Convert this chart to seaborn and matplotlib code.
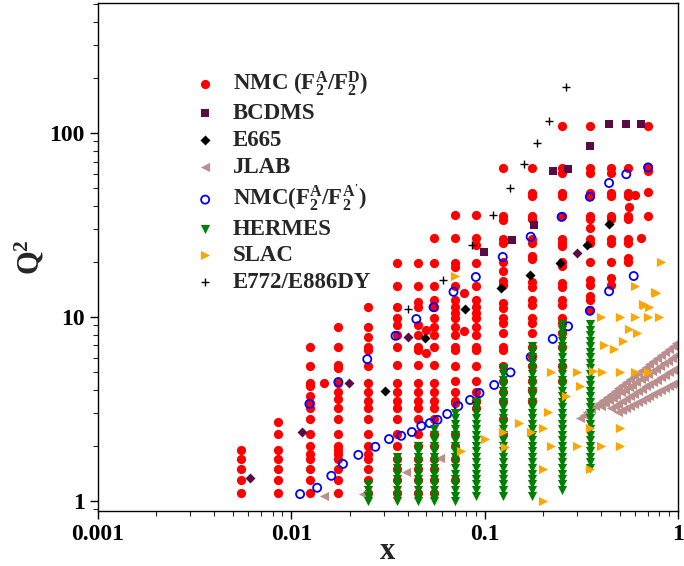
import pandas as pd
import seaborn as sns
import matplotlib.pyplot as plt
from matplotlib.ticker import LogLocator, NullFormatter

sns.set_style('ticks')
plt.rcParams['font.family'] = ['Liberation Serif', 'DejaVu Serif']
plt.rcParams['font.weight'] = 'bold'
plt.rcParams['axes.labelweight'] = 'bold'
plt.rcParams['mathtext.fontset'] = 'custom'
plt.rcParams['mathtext.rm'] = 'Liberation Serif:bold'
plt.rcParams['mathtext.it'] = 'Liberation Serif:bold'
plt.rcParams['mathtext.bf'] = 'Liberation Serif:bold'

# NMC (F2A/F2D): x bins and the Q^2 values seen in each bin
nmc_x = [0.0055, 0.0085, 0.0125, 0.0147, 0.0175, 0.025, 0.035, 0.045, 0.05,
         0.055, 0.07, 0.078, 0.09, 0.125, 0.175, 0.25, 0.35, 0.45, 0.55,
         0.56, 0.6, 0.64, 0.7]
nmc_q2 = [
    [1.1, 1.3, 1.5, 1.7, 1.9],
    [1.1, 1.3, 1.5, 1.7, 1.9, 2.3, 2.7],
    [1.1, 1.3, 1.5, 1.7, 1.8, 2.0, 2.3, 2.8, 3.2, 3.4, 3.7, 4.2, 4.4, 5.4, 6.9],
    [4.4],
    [1.1, 1.3, 1.5, 1.7, 1.8, 1.9, 2.0, 2.3, 2.8, 3.2, 3.6, 3.9, 4.4, 5.3, 5.5, 6.9, 8.8],
    [1.1, 1.3, 1.5, 1.7, 1.8, 2.0, 2.3, 2.8, 3.2, 3.5, 3.9, 4.4, 5.4, 6.6, 6.9, 7.8, 8.8, 11.3],
    [1.1, 1.3, 1.5, 1.7, 2.0, 2.3, 2.8, 3.2, 3.5, 3.9, 4.4, 5.5, 6.9, 8.0, 9.1, 9.9, 11.3, 14.7, 19.7],
    [1.1, 1.3, 1.5, 1.7, 2.0, 2.3, 2.8, 3.2, 3.5, 3.9, 4.4, 5.5, 6.6, 6.9, 8.0, 9.1, 11.3, 12.1, 14.7, 19.7],
    [6.4, 8.5],
    [1.1, 1.3, 1.5, 1.7, 2.0, 2.3, 2.8, 3.2, 3.5, 3.9, 4.4, 5.5, 6.9, 8.0, 8.8, 9.9, 11.3, 12.3, 14.7, 19.7, 26.8],
    [1.3, 1.7, 2.0, 2.3, 3.4, 3.5, 3.9, 4.5, 5.4, 6.6, 6.9, 8.0, 8.8, 9.9, 10.5, 11.3, 12.3, 14.7, 18.7, 19.7, 26.8, 35.8],
    [8.4, 13.5],
    [3.2, 3.5, 3.9, 4.5, 5.4, 6.6, 6.9, 8.0, 8.8, 9.9, 10.5, 11.3, 12.3, 14.7, 19.7, 24.6, 26.8, 35.8],
    [2.3, 2.8, 3.5, 3.9, 4.5, 5.4, 6.6, 6.9, 8.2, 9.3, 9.9, 11.2, 11.9, 15.0, 15.6, 17.7, 19.9, 25.2, 26.5, 33.8, 35.4, 64.5],
    [3.5, 4.0, 4.5, 5.4, 6.1, 6.9, 8.2, 9.3, 9.9, 11.6, 12.3, 14.5, 15.4, 20.6, 21.5, 25.2, 26.5, 34.0, 35.4, 45.5, 47.0, 64.5],
    [4.5, 5.4, 6.9, 8.2, 9.3, 9.9, 11.6, 12.3, 14.5, 15.3, 19.0, 19.9, 24.3, 25.2, 26.5, 35.4, 45.5, 47.0, 61.0, 64.5, 109.0],
    [10.9, 12.4, 13.0, 15.0, 15.8, 19.9, 25.2, 26.5, 30.5, 34.0, 35.4, 45.5, 47.0, 61.0, 64.5, 109.0],
    [15.0, 16.2, 19.9, 25.2, 26.5, 34.0, 35.4, 45.5, 47.0, 61.0, 64.5],
    [19.9, 20.8, 25.2, 26.5, 34.0, 35.4, 45.5, 47.0, 64.5],
    [39.6],
    [46.0],
    [27.0],
    [35.4, 47.5, 62.0, 65.0, 109.0],
]

bcdms_x = [0.44, 0.54, 0.64, 0.35, 0.225, 0.27, 0.18, 0.139, 0.099]
bcdms_q2 = [112, 112, 112, 85, 62, 64, 31.6, 26.3, 22.6]

# purple diamonds without a legend entry
other_x = [0.0061, 0.0114, 0.0199, 0.040, 0.30]
other_q2 = [1.33, 2.37, 4.38, 7.8, 22.3]

e665_x = [0.0306, 0.049, 0.0787, 0.122, 0.171, 0.245, 0.34, 0.44]
e665_q2 = [3.96, 7.7, 11.1, 14.4, 16.9, 19.6, 24.6, 32.0]

# JLAB: a few low-x points plus four streaks at high x
jlab_low_x = [0.0148, 0.0236, 0.039, 0.059]
jlab_low_q2 = [1.06, 1.09, 1.44, 1.71]
jlab_s1_x = [0.31, 0.325, 0.34, 0.355, 0.37, 0.39, 0.41, 0.43, 0.45, 0.47, 0.49, 0.515, 0.54,
             0.565, 0.59, 0.62, 0.65, 0.68, 0.71, 0.745, 0.78, 0.815, 0.855, 0.895, 0.94, 0.98]
jlab_s1_q2 = [2.83, 2.94, 3.05, 3.16, 3.27, 3.41, 3.56, 3.69, 3.83, 3.97, 4.10, 4.28, 4.44,
              4.60, 4.78, 4.97, 5.16, 5.36, 5.55, 5.77, 5.98, 6.19, 6.44, 6.68, 6.95, 7.19]
jlab_s2_x = [0.40, 0.42, 0.44, 0.46, 0.48, 0.505, 0.53, 0.555, 0.58, 0.61,
             0.64, 0.67, 0.70, 0.735, 0.77, 0.81, 0.85, 0.89, 0.935, 0.98]
jlab_s2_q2 = [3.30, 3.42, 3.53, 3.65, 3.75, 3.89, 4.02, 4.15, 4.29, 4.44,
              4.59, 4.74, 4.89, 5.06, 5.22, 5.41, 5.60, 5.78, 5.98, 6.18]
jlab_s3_x = [0.45, 0.47, 0.49, 0.515, 0.54, 0.565, 0.59, 0.62, 0.65,
             0.68, 0.71, 0.745, 0.78, 0.815, 0.855, 0.895, 0.94, 0.98]
jlab_s3_q2 = [3.20, 3.29, 3.38, 3.49, 3.60, 3.71, 3.81, 3.94, 4.06,
              4.19, 4.30, 4.44, 4.57, 4.70, 4.85, 5.00, 5.15, 5.30]
jlab_s4_x = [0.49, 0.515, 0.54, 0.565, 0.59, 0.62, 0.65, 0.68,
             0.71, 0.745, 0.78, 0.815, 0.855, 0.895, 0.93, 0.96]
jlab_s4_q2 = [3.05, 3.13, 3.21, 3.30, 3.37, 3.47, 3.56, 3.65,
              3.73, 3.83, 3.93, 4.02, 4.13, 4.24, 4.33, 4.40]

nmca_x = [0.0111, 0.0136, 0.0161, 0.0185, 0.0222, 0.0272, 0.032, 0.037, 0.042, 0.047,
          0.052, 0.057, 0.064, 0.073, 0.084, 0.094, 0.112, 0.136, 0.173, 0.225, 0.27,
          0.35, 0.44,
          0.0124, 0.0175, 0.0247, 0.0346, 0.0443, 0.0544, 0.069, 0.09, 0.124, 0.173,
          0.25, 0.35, 0.44, 0.54, 0.70, 0.59]
nmca_q2 = [1.09, 1.18, 1.37, 1.59, 1.78, 1.97, 2.17, 2.26, 2.37, 2.56,
           2.65, 2.76, 2.97, 3.28, 3.54, 3.86, 4.27, 5.0, 6.06, 7.6, 8.9,
           10.8, 13.8,
           3.37, 4.43, 5.9, 7.9, 9.75, 11.3, 13.7, 16.5, 21.2, 27.3,
           35.0, 45.0, 53.5, 59.7, 65.0, 16.7]

# HERMES: Q^2 ladder and the lowest / highest value in each x bin
hermes_ladder = [1.00, 1.07, 1.15, 1.23, 1.32, 1.41, 1.51, 1.62, 1.74, 1.86, 2.00,
                 2.14, 2.29, 2.45, 2.63, 2.82, 3.02, 3.24, 3.47, 3.72, 3.98, 4.27,
                 4.57, 4.90, 5.25, 5.62, 6.03, 6.46, 6.92, 7.41, 7.94, 8.51, 9.12]
hermes_x = [0.025, 0.035, 0.045, 0.055, 0.07, 0.09, 0.125, 0.175, 0.25, 0.35]
hermes_lo = [1.0, 1.0, 1.0, 1.0, 1.0, 1.04, 1.04, 1.04, 1.1, 1.44]
hermes_hi = [1.23, 1.8, 2.1, 2.5, 3.2, 3.7, 5.3, 7.2, 9.4, 9.4]

slac_x = [0.07, 0.075, 0.100, 0.124, 0.128, 0.150, 0.173, 0.200, 0.200, 0.200,
          0.212, 0.220, 0.220, 0.263, 0.300, 0.300, 0.310, 0.350, 0.350, 0.363,
          0.40, 0.40, 0.404, 0.414, 0.466, 0.50, 0.50, 0.50, 0.50, 0.519,
          0.557, 0.60, 0.60, 0.60, 0.614, 0.66, 0.67, 0.70, 0.70, 0.71,
          0.76, 0.77, 0.80, 0.82]
slac_q2 = [16.7, 1.87, 2.17, 2.37, 1.97, 2.65, 2.37, 2.5, 1.5, 1.0,
           3.05, 5.0, 2.0, 3.7, 5.0, 2.0, 4.2, 2.5, 1.5, 5.1,
           10.0, 2.0, 5.0, 7.0, 6.7, 10.0, 5.0, 2.5, 2.0, 7.4,
           8.6, 10.0, 5.0, 14.7, 8.2, 11.8, 11.6, 10.0, 5.0, 11.3,
           13.7, 13.5, 10.0, 19.9]

dy_x = [0.265, 0.214, 0.186, 0.160, 0.135, 0.110, 0.0865, 0.061, 0.0403]
dy_q2 = [177, 116, 88, 68, 50, 36, 24.6, 15.9, 11.1]


def columns_to_frame(xs, q2_lists):
    rows = [(x, q) for x, qs in zip(xs, q2_lists) for q in qs]
    return pd.DataFrame(rows, columns=['x', 'Q2'])


nmc = columns_to_frame(nmc_x, nmc_q2)
hermes = columns_to_frame(
    hermes_x,
    [[q for q in hermes_ladder if lo - 0.01 <= q <= hi] for lo, hi in zip(hermes_lo, hermes_hi)])
jlab = pd.DataFrame({
    'x': jlab_low_x + jlab_s1_x + jlab_s2_x + jlab_s3_x + jlab_s4_x,
    'Q2': jlab_low_q2 + jlab_s1_q2 + jlab_s2_q2 + jlab_s3_q2 + jlab_s4_q2,
})

fig, ax = plt.subplots(figsize=(6.84, 5.66), dpi=100)
fig.subplots_adjust(left=98 / 684, right=678 / 684, bottom=(566 - 511) / 566, top=(566 - 3) / 566)

sns.scatterplot(data=nmc, x='x', y='Q2', ax=ax, color='#ff0000', marker='o', s=44,
                linewidth=0, label='NMC (F$_2^{A}$/F$_2^{D}$)')
sns.scatterplot(x=bcdms_x, y=bcdms_q2, ax=ax, color='#5c0a46', marker='s', s=36,
                linewidth=0, label='BCDMS')
sns.scatterplot(x=other_x, y=other_q2, ax=ax, color='#5c0a46', marker='D', s=26,
                linewidth=0, label='_nolegend_')
sns.scatterplot(x=e665_x, y=e665_q2, ax=ax, color='black', marker='D', s=26,
                linewidth=0, label='E665')
sns.scatterplot(data=jlab, x='x', y='Q2', ax=ax, color='#bc8f8f', marker='<', s=44,
                linewidth=0, label='JLAB')
sns.scatterplot(x=nmca_x, y=nmca_q2, ax=ax, color='none', facecolor='none', edgecolor='#0000ff',
                marker='o', s=34, linewidth=1.3, label="NMC(F$_2^{A}$/F$_2^{A'}$)")
sns.scatterplot(data=hermes, x='x', y='Q2', ax=ax, color='#008000', marker='v', s=44,
                linewidth=0, label='HERMES')
sns.scatterplot(x=slac_x, y=slac_q2, ax=ax, color='#ffa500', marker='>', s=44,
                linewidth=0, label='SLAC')
sns.scatterplot(x=dy_x, y=dy_q2, ax=ax, color='black', marker='+', s=40,
                linewidth=1.0, label='E772/E886DY')

ax.set_xscale('log')
ax.set_yscale('log')
ax.set_xlim(0.001, 1)
ax.set_ylim(0.882, 509)
ax.set_xticks([0.001, 0.01, 0.1, 1], labels=['0.001', '0.01', '0.1', '1'])
ax.set_yticks([1, 10, 100], labels=['1', '10', '100'])
ax.xaxis.set_minor_locator(LogLocator(base=10, subs=range(2, 10), numticks=20))
ax.yaxis.set_minor_locator(LogLocator(base=10, subs=range(2, 10), numticks=20))
ax.xaxis.set_minor_formatter(NullFormatter())
ax.yaxis.set_minor_formatter(NullFormatter())
ax.tick_params(which='major', direction='out', length=6, width=1, labelsize=17, colors='black')
ax.tick_params(which='minor', direction='out', length=3.5, width=0.8)
for side in ax.spines.values():
    side.set_linewidth(1.0)
    side.set_color('black')

ax.set_xlabel('x', fontsize=22, labelpad=-6)
ax.set_ylabel('Q$^2$', fontsize=22, labelpad=2)

ax.legend(loc='upper left', bbox_to_anchor=(0.165, 0.87), frameon=False, fontsize=16.5,
          handlelength=1.0, handletextpad=0.7, labelspacing=0.24, borderpad=0,
          borderaxespad=0)

plt.savefig('out.png', dpi=100)
